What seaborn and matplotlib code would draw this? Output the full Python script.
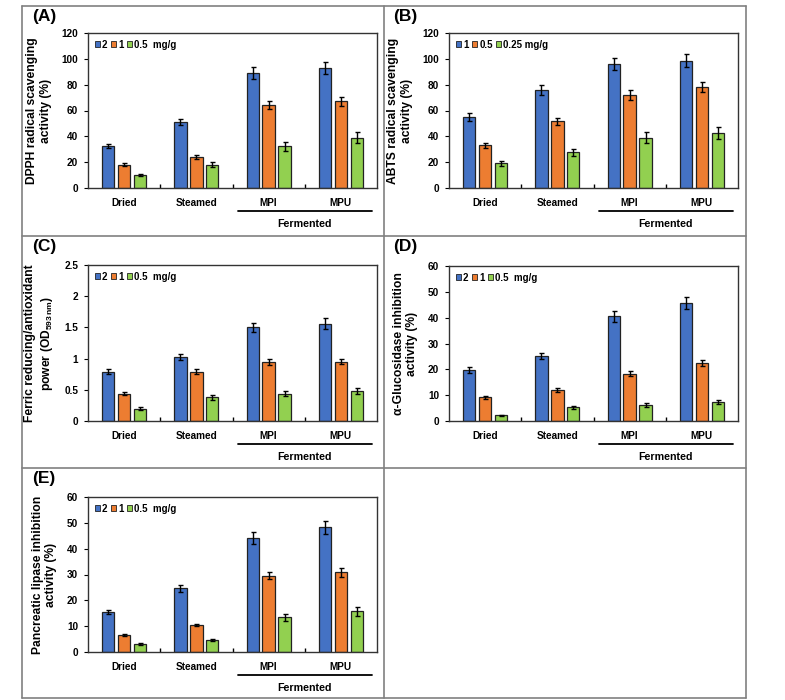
import pandas as pd
import seaborn as sns
import matplotlib.pyplot as plt
from matplotlib.lines import Line2D
import matplotlib.transforms as mtransforms

# Datos
grupos = ["Dried", "Steamed", "MPI", "MPU"]
colores = ["#4472C4", "#ED7D31", "#92D050"]

dosis_a = ["2", "1", "0.5  mg/g"]
dpph = [[32.5, 18.0, 10.0], [51.0, 24.0, 18.0], [89.0, 64.0, 32.5], [93.0, 67.0, 39.0]]
dpph_err = [[1.5, 1.0, 1.0], [2.5, 1.2, 2.0], [4.5, 3.0, 3.5], [4.5, 3.5, 4.0]]

dosis_b = ["1", "0.5", "0.25 mg/g"]
abts = [[55.0, 33.0, 19.0], [76.0, 51.5, 27.5], [96.0, 72.0, 39.0], [98.5, 78.0, 42.5]]
abts_err = [[3.0, 2.0, 2.0], [4.0, 3.0, 3.0], [5.0, 4.0, 4.0], [5.0, 4.0, 4.5]]

frap = [[0.79, 0.44, 0.20], [1.03, 0.79, 0.38], [1.50, 0.95, 0.44], [1.56, 0.95, 0.48]]
frap_err = [[0.04, 0.02, 0.02], [0.05, 0.04, 0.04], [0.07, 0.05, 0.04], [0.09, 0.04, 0.05]]

gluco = [[19.8, 9.2, 2.2], [25.2, 12.0, 5.3], [40.5, 18.3, 6.2], [45.7, 22.5, 7.5]]
gluco_err = [[1.2, 0.5, 0.3], [1.2, 0.6, 0.6], [2.0, 0.9, 0.6], [2.3, 1.1, 0.8]]

lipasa = [[15.5, 6.5, 3.0], [24.6, 10.4, 4.5], [44.2, 29.6, 13.5], [48.3, 30.8, 15.7]]
lipasa_err = [[0.8, 0.4, 0.4], [1.2, 0.5, 0.4], [2.2, 1.4, 1.4], [2.6, 1.6, 1.6]]

sns.set_style("ticks")
plt.rcParams['font.family'] = ['Liberation Sans', 'DejaVu Sans']
plt.rcParams['mathtext.default'] = 'regular'
for k in ['text.color', 'axes.labelcolor', 'xtick.color', 'ytick.color']:
    plt.rcParams[k] = 'black'

W, H = 785, 700
fig = plt.figure(figsize=(W / 100, H / 100), dpi=100)


def px_axes(left, top, right, bottom):
    return fig.add_axes([left / W, 1 - bottom / H, (right - left) / W, (bottom - top) / H])


def panel(ax, valores, errores, dosis, ylim, yticks, ylabel):
    filas = []
    for g, vals, errs in zip(grupos, valores, errores):
        for d, v, e in zip(dosis, vals, errs):
            filas.append({"grupo": g, "dosis": d, "valor": v, "err": e})
    df = pd.DataFrame(filas)
    sns.barplot(data=df, x="grupo", y="valor", hue="dosis", hue_order=dosis,
                palette=colores, saturation=1, width=0.66, gap=0.22, errorbar=None,
                edgecolor="#222222", linewidth=0.9, ax=ax)
    # barras de error sobre cada barra
    for cont, d in zip(ax.containers, dosis):
        sub = df[df["dosis"] == d]
        xs = [p.get_x() + p.get_width() / 2 for p in cont.patches]
        ax.errorbar(xs, sub["valor"], yerr=sub["err"], fmt="none",
                    ecolor="black", elinewidth=1, capsize=1.8, capthick=1)
    ax.set_xlim(-0.5, 3.5)
    ax.set_ylim(*ylim)
    ax.set_yticks(yticks)
    ax.set_yticklabels([f"{t:g}" for t in yticks], fontsize=7.2, fontweight="bold")
    ax.set_xticks(range(4))
    ax.set_xticklabels(grupos, fontsize=7.2, fontweight="bold")
    ax.tick_params(axis="x", length=0, pad=7)
    ax.set_xticks([0.5, 1.5, 2.5], minor=True)
    ax.tick_params(axis="x", which="minor", direction="in", length=3, width=1)
    ax.tick_params(axis="y", length=3, width=0.8, pad=4)
    ax.set_xlabel("")
    ax.set_ylabel(ylabel, fontsize=8.7, fontweight="bold", labelpad=7)
    for s in ax.spines.values():
        s.set_linewidth(1.0)
        s.set_color("#333333")
    leg = ax.legend(loc="upper left", ncol=3, frameon=False,
                    prop={"size": 7, "weight": "bold"},
                    handlelength=0.55, handleheight=0.55, handletextpad=0.2,
                    columnspacing=0.35, borderaxespad=0.3)
    for h in leg.legend_handles:
        h.set_linewidth(0.6)
    # línea y etiqueta de "Fermented"
    tr = mtransforms.blended_transform_factory(ax.transData, ax.transAxes)
    ax.plot([1.58, 3.43], [-0.148, -0.148], color="black", lw=1.3,
            transform=tr, clip_on=False)
    ax.text(2.5, -0.2, "Fermented", transform=tr, ha="center", va="top",
            fontsize=7.7, fontweight="bold")


ax_a = px_axes(88, 33, 377, 188)
panel(ax_a, dpph, dpph_err, dosis_a, (0, 120), range(0, 121, 20),
      "DPPH radical scavenging\nactivity (%)")
ax_b = px_axes(449, 33, 738, 188)
panel(ax_b, abts, abts_err, dosis_b, (0, 120), range(0, 121, 20),
      "ABTS radical scavenging\nactivity (%)")
ax_c = px_axes(88, 265, 377, 421)
panel(ax_c, frap, frap_err, dosis_a, (0, 2.5), [0, 0.5, 1, 1.5, 2, 2.5],
      "Ferric reducing/antioxidant\npower (OD$_{593\\,nm}$)")
ax_d = px_axes(449, 266, 738, 421)
panel(ax_d, gluco, gluco_err, dosis_a, (0, 60), range(0, 61, 10),
      "α-Glucosidase inhibition\nactivity (%)")
ax_e = px_axes(88, 497, 377, 652)
panel(ax_e, lipasa, lipasa_err, dosis_a, (0, 60), range(0, 61, 10),
      "Pancreatic lipase inhibition\nactivity (%)")

# etiquetas de panel
for txt, x, y in [("(A)", 32, 17), ("(B)", 393, 17), ("(C)", 32, 247),
                  ("(D)", 393, 247), ("(E)", 32, 479)]:
    fig.text(x / W, 1 - y / H, txt, fontsize=12.5, fontweight="bold",
             ha="left", va="center", color="black")

# rejilla de la tabla
gris = "#808080"
for x in [22, 384, 746]:
    fig.add_artist(Line2D([x / W, x / W], [1 - 6 / H, 1 - 698 / H], color=gris, lw=1.2))
for y in [6, 236, 468, 698]:
    fig.add_artist(Line2D([22 / W, 746 / W], [1 - y / H, 1 - y / H], color=gris, lw=1.2))

plt.savefig("out.png", dpi=100)
